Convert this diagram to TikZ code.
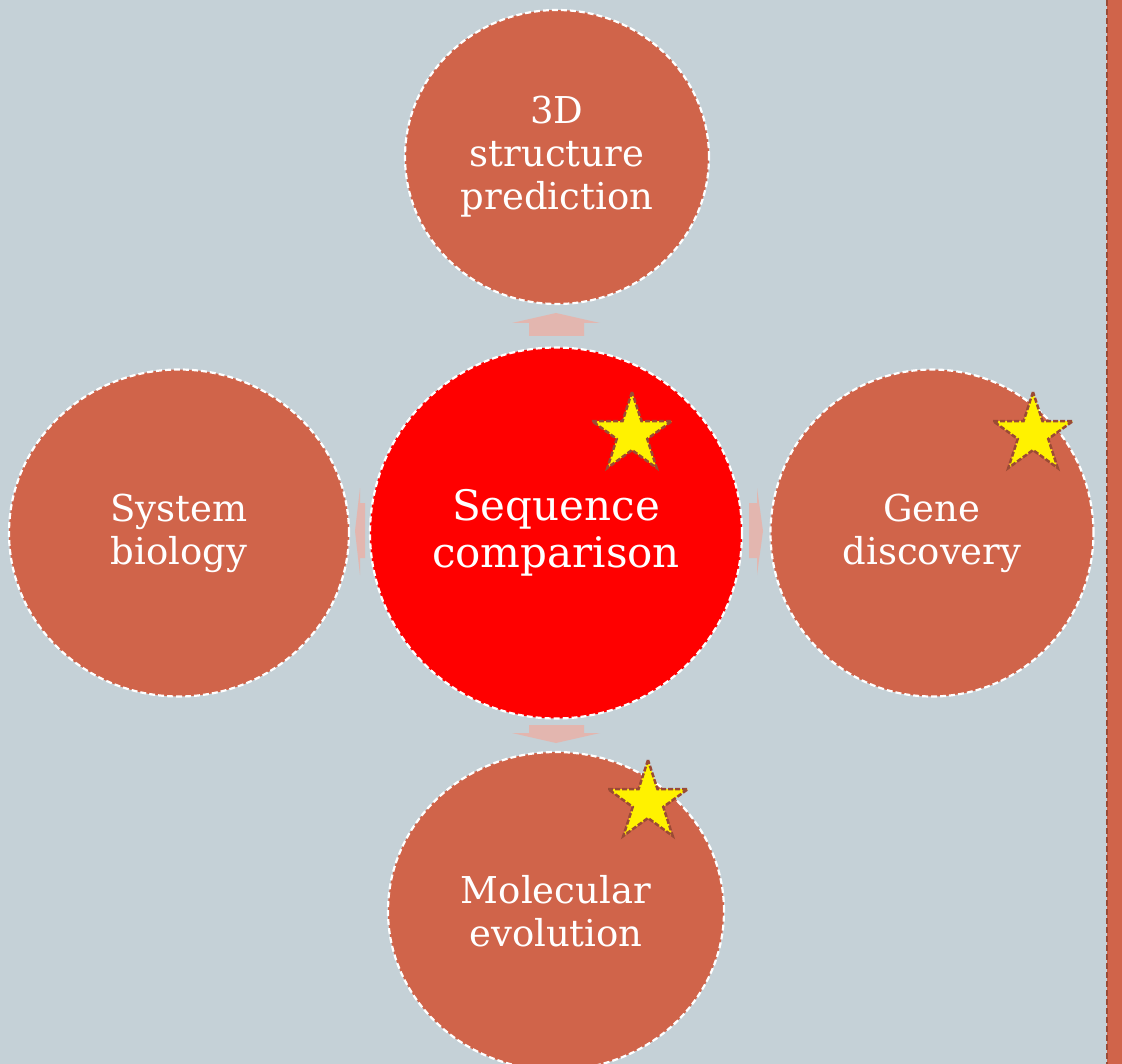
\documentclass[tikz,border=0pt]{standalone}
\usepackage{fontspec}
\setmainfont{DejaVu Serif}
\usetikzlibrary{shapes.geometric}
\definecolor{bg}{HTML}{C5D1D7}
\definecolor{orng}{HTML}{D0644A}
\definecolor{arr}{HTML}{E3B6AF}
\definecolor{starb}{HTML}{9A4A35}
\tikzset{
  bubble/.style={ellipse, draw=white, dash pattern=on 6pt off 3pt, line width=2.2pt, fill=orng, text=white, align=center, inner sep=0pt, font=\fontsize{37}{43}\selectfont},
  starmark/.style={star, star points=5, star point ratio=2.618, fill=yellow, draw=starb, dash pattern=on 5pt off 2pt, line width=2.5pt, minimum size=84pt, inner sep=0pt},
  blockarrow/.style={fill=arr, draw=none}
}
\begin{document}
\begin{tikzpicture}[x=1pt,y=-1pt]
\useasboundingbox (0,0) rectangle (1122,1064);
\fill[bg] (0,0) rectangle (1122,1064);
\fill[orng] (1107,0) rectangle (1122,1064);
\draw[starb, line width=2pt, dash pattern=on 6pt off 3pt] (1107,0) -- (1107,1064);
% block arrows
\fill[blockarrow] (529,336) -- (529,323) -- (512,323) -- (556,313) -- (600,323) -- (584,323) -- (584,336) -- cycle;
\fill[blockarrow] (529,725) -- (529,733) -- (512,733) -- (556,743) -- (600,733) -- (584,733) -- (584,725) -- cycle;
\fill[blockarrow] (365,503) -- (360,503) -- (360,488) -- (355,531) -- (360,575) -- (360,558) -- (365,558) -- cycle;
\fill[blockarrow] (749,503) -- (757,503) -- (757,488) -- (763,531) -- (757,575) -- (757,558) -- (749,558) -- cycle;
% circles
\node[bubble, minimum width=304pt, minimum height=294pt] (top) at (557,157) {3D\\structure\\prediction};
\node[bubble, minimum width=340pt, minimum height=327pt] (left) at (179,533) {System\\biology};
\node[bubble, minimum width=323pt, minimum height=327pt] (right) at (932,533) {Gene\\discovery};
\node[bubble, minimum width=336pt, minimum height=318pt] (bottom) at (556,911) {Molecular\\evolution};
\node[bubble, fill=red, minimum width=372pt, minimum height=371pt, font=\fontsize{42}{47}\selectfont] (center) at (556,533) {Sequence\\comparison};
% stars
\node[starmark] (s1) at (632,434) {};
\node[starmark] (s2) at (1033,434) {};
\node[starmark] (s3) at (648,802) {};
\end{tikzpicture}
\end{document}
